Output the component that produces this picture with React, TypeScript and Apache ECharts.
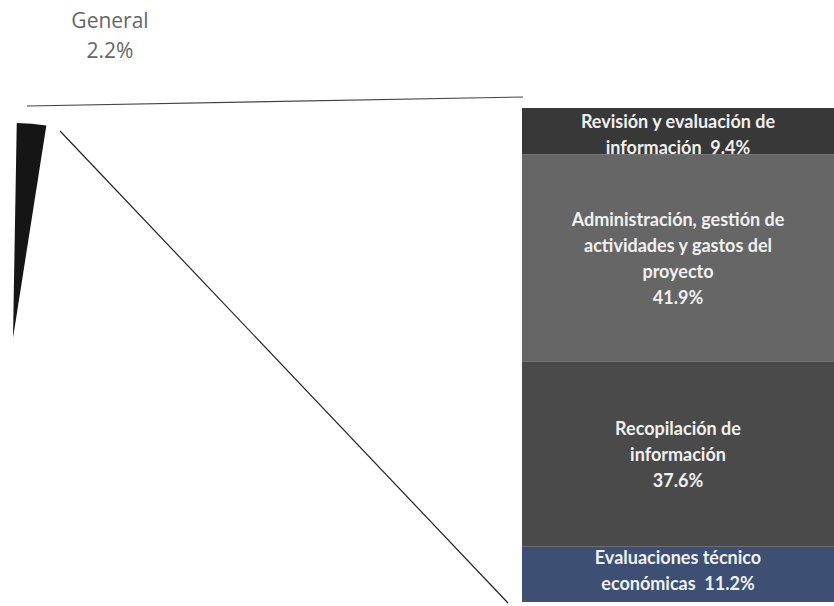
import React, { useEffect, useRef } from "react";
import * as echarts from "echarts";

// Pie (left) data
const pieNames = ["General", "Resto"];
const pieValues = [2.2, 97.8];

// Bar (right) stacked segments, bottom to top
const barNames = [
  "Evaluaciones técnico económicas",
  "Recopilación de información",
  "Administración, gestión de actividades y gastos del proyecto",
  "Revisión y evaluación de información",
];
const barValues = [11.2, 37.6, 41.9, 9.4];
const barLabels = [
  "Evaluaciones técnico\neconómicas  11.2%",
  "Recopilación de\ninformación\n37.6%",
  "Administración, gestión de\nactividades y gastos del\nproyecto\n41.9%",
  "Revisión y evaluación de\ninformación  9.4%",
];
const barColors = ["#3d4f72", "#4a4a4a", "#666666", "#383838"];
const labelOffsetsY = [-4, 0, 0, 3];

export default function App() {
  const ref = useRef<HTMLDivElement>(null);
  useEffect(() => {
    if (!ref.current) return;
    const chart = echarts.init(ref.current, null, { renderer: "svg" });
    const H = 606;
    const pieCx = 13;
    const pieCy = 338;
    const pieR = 215;
    const startAngle = 89;
    const gridLeft = 522;
    const gridTop = 108;
    const gridBottom = 4;
    const total = barValues.reduce((a, b) => a + b, 0);

    chart.setOption({
      animation: false,
      backgroundColor: "#ffffff",
      grid: { left: gridLeft, right: 0, top: gridTop, bottom: gridBottom },
      xAxis: { type: "category", data: ["bar"], show: false },
      yAxis: { type: "value", min: 0, max: total, show: false },
      series: [
        {
          type: "pie",
          center: [pieCx, pieCy],
          radius: pieR,
          startAngle,
          clockwise: true,
          silent: true,
          label: { show: false },
          labelLine: { show: false },
          data: pieNames.map((n, i) => ({
            name: n,
            value: pieValues[i],
            itemStyle: { color: i === 0 ? "#151515" : "rgba(255,255,255,0)" },
          })),
        },
        ...barNames.map((n, i) => ({
          type: "bar",
          name: n,
          stack: "s",
          barWidth: "100%",
          data: [barValues[i]],
          itemStyle: { color: barColors[i] },
          label: {
            show: true,
            position: "inside",
            offset: [0, labelOffsetsY[i]],
            formatter: () => barLabels[i],
            color: "#f0f0f0",
            fontFamily: "Lato",
            fontWeight: "bold",
            fontSize: 18,
            lineHeight: 26,
            align: "center",
          },
        })),
      ],
      graphic: [
        {
          type: "text",
          x: 110,
          y: 5,
          style: {
            text: `${pieNames[0]}\n${pieValues[0]}%`,
            fill: "#666666",
            font: "21px 'Open Sans'",
            lineHeight: 30,
            align: "center",
            verticalAlign: "top",
          },
        },
        {
          type: "line",
          shape: { x1: 27, y1: 106, x2: gridLeft + 1, y2: 97 },
          style: { stroke: "#444", lineWidth: 1.2 },
        },
        {
          type: "line",
          shape: { x1: 60, y1: 131, x2: 508, y2: H - 3 },
          style: { stroke: "#222", lineWidth: 1.2 },
        },
      ],
    });
    return () => chart.dispose();
  }, []);
  return (
    <div
      ref={ref}
      style={{ position: "fixed", left: 0, top: 0, width: 834, height: 606 }}
    />
  );
}
